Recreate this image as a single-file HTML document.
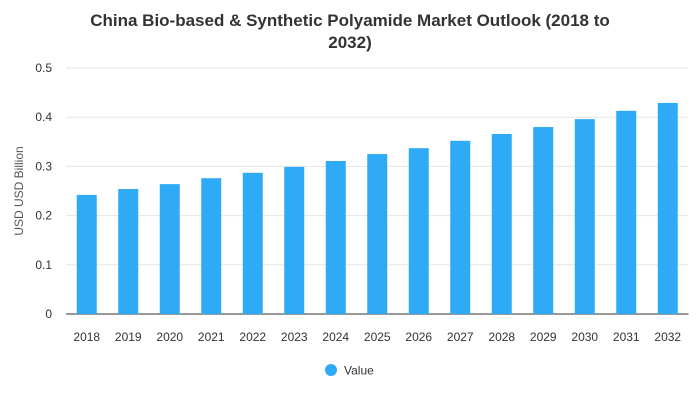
<!DOCTYPE html>
<html><head><meta charset="utf-8"><style>
body{margin:0;background:#fff;font-family:"Liberation Sans",Arial,sans-serif}
</style></head><body>
<svg id="chart" width="700" height="400" xmlns="http://www.w3.org/2000/svg">
<text x="350" y="26" text-anchor="middle" font-size="17" font-weight="bold" fill="#333">China Bio-based &amp; Synthetic Polyamide Market Outlook (2018 to</text>
<text x="350" y="48" text-anchor="middle" font-size="17" font-weight="bold" fill="#333">2032)</text>
<text transform="translate(23,191) rotate(-90)" text-anchor="middle" font-size="12" fill="#555">USD USD Billion</text>
<g id="grid"></g><g id="bars"></g><g id="xlabels"></g>
<g>
<circle cx="331" cy="370" r="6" fill="#2eaaf7"/>
<text x="344" y="374.5" font-size="12" fill="#333">Value</text>
</g>
</svg>
<script>
const categories=["2018","2019","2020","2021","2022","2023","2024","2025","2026","2027","2028","2029","2030","2031","2032"];
const values=[0.242,0.254,0.264,0.276,0.287,0.299,0.311,0.325,0.337,0.352,0.366,0.380,0.396,0.413,0.429];
const yTicks=[0,0.1,0.2,0.3,0.4,0.5];
const ns="http://www.w3.org/2000/svg";
const x0=66,x1=688.5,yBase=314,yTop=68,yMax=0.5;
const band=(x1-x0)/categories.length;
const y=v=>yBase-(v/yMax)*(yBase-yTop);
const xc=i=>x0+band*(i+0.5);
const g=document.getElementById('grid'),b=document.getElementById('bars'),xl=document.getElementById('xlabels');
yTicks.forEach(t=>{
 const l=document.createElementNS(ns,'line');
 
 
 l.setAttribute('x1',x0);l.setAttribute('x2',x1);l.setAttribute('y1',y(t));l.setAttribute('y2',y(t));
 l.setAttribute('stroke',t===0?'#333':'#e6e6e6');l.setAttribute('stroke-width','1');
 g.appendChild(l);
 const tx=document.createElementNS(ns,'text');
 
 
 tx.setAttribute('x',52);tx.setAttribute('y',y(t)+4);tx.setAttribute('text-anchor','end');
 tx.setAttribute('font-size','12');tx.setAttribute('fill','#333');tx.textContent=String(t);
 g.appendChild(tx);
});
values.forEach((v,i)=>{
 const r=document.createElementNS(ns,'rect');
 
 
 r.setAttribute('x',xc(i)-10);r.setAttribute('width',20);r.setAttribute('y',y(v));r.setAttribute('height',yBase-y(v));
 r.setAttribute('fill','#2eaaf7');
 b.appendChild(r);
 const tx=document.createElementNS(ns,'text');
 
 
 tx.setAttribute('x',xc(i));tx.setAttribute('y',341);tx.setAttribute('text-anchor','middle');
 tx.setAttribute('font-size','12');tx.setAttribute('fill','#333');tx.textContent=categories[i];
 xl.appendChild(tx);
});
</script>
</body></html>
